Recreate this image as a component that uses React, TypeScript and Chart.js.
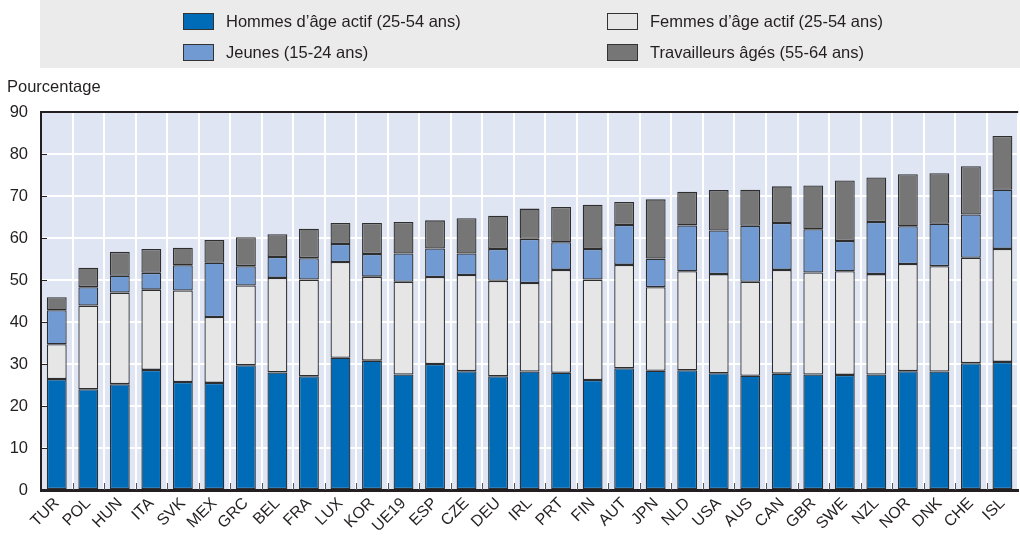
import React, { useEffect, useRef } from "react";
import { Chart, registerables } from "chart.js";
Chart.register(...registerables);

const categories = [
  "TUR", "POL", "HUN", "ITA", "SVK", "MEX", "GRC", "BEL", "FRA", "LUX",
  "KOR", "UE19", "ESP", "CZE", "DEU", "IRL", "PRT", "FIN", "AUT", "JPN",
  "NLD", "USA", "AUS", "CAN", "GBR", "SWE", "NZL", "NOR", "DNK", "CHE", "ISL",
];
const menValues = [
  26.4, 24.0, 25.2, 28.6, 25.7, 25.5, 29.7, 28.0, 27.1, 31.5,
  30.8, 27.5, 30.0, 28.3, 27.1, 28.2, 27.9, 26.2, 29.0, 28.4,
  28.5, 27.8, 27.2, 27.7, 27.5, 27.4, 27.5, 28.3, 28.2, 30.2, 30.5,
];
const womenValues = [
  8.3, 19.9, 21.8, 19.1, 21.8, 15.7, 19.0, 22.5, 23.0, 22.8,
  20.0, 22.1, 20.7, 22.9, 22.7, 21.1, 24.5, 23.9, 24.6, 19.9,
  23.6, 23.6, 22.4, 24.7, 24.3, 24.7, 23.9, 25.5, 25.1, 25.1, 26.9,
];
const youthValues = [
  8.1, 4.4, 4.0, 4.0, 6.0, 12.9, 4.6, 5.0, 5.1, 4.3,
  5.4, 6.7, 6.8, 5.1, 7.6, 10.5, 6.6, 7.3, 9.5, 6.8,
  10.9, 10.4, 13.3, 11.2, 10.3, 7.2, 12.4, 9.0, 10.1, 10.3, 14.1,
];
const olderValues = [
  3.1, 4.6, 5.7, 5.7, 4.2, 5.4, 6.9, 5.4, 7.0, 5.0,
  7.4, 7.5, 6.7, 8.4, 7.9, 7.2, 8.4, 10.5, 5.5, 14.1,
  8.0, 9.6, 8.6, 8.7, 10.4, 14.4, 10.6, 12.4, 12.0, 11.5, 12.8,
];
const seriesLabels = [
  "Hommes d\u2019âge actif (25-54 ans)",
  "Femmes d\u2019âge actif (25-54 ans)",
  "Jeunes (15-24 ans)",
  "Travailleurs âgés (55-64 ans)",
];
const yAxisTitle = "Pourcentage";
const yMin = 0;
const yMax = 90;
const yStep = 10;

const COLORS = ["#006BB6", "#E6E6E7", "#7199D2", "#767676"];
const FONT = "'Liberation Sans', Arial, sans-serif";
const TEXT = "#231F20";

export default function App() {
  const ref = useRef<HTMLCanvasElement | null>(null);

  useEffect(() => {
    document.body.style.margin = "0";
    const canvas = ref.current;
    if (!canvas) return;

    const decor = {
      id: "decor",
      beforeDraw(chart: any) {
        const { ctx, chartArea } = chart;
        ctx.save();
        ctx.fillStyle = "#EBEBEB";
        ctx.fillRect(40, 0, 980, 68);
        ctx.fillStyle = "#DFE5F3";
        ctx.fillRect(chartArea.left, chartArea.top, chartArea.right - chartArea.left, chartArea.bottom - chartArea.top);
        ctx.restore();
      },
      afterDraw(chart: any) {
        const { ctx, chartArea, scales } = chart;
        ctx.save();
        // top frame line
        ctx.strokeStyle = "#231F20";
        ctx.lineWidth = 2;
        ctx.beginPath();
        ctx.moveTo(chartArea.left, chartArea.top);
        ctx.lineTo(chartArea.right, chartArea.top);
        ctx.stroke();
        // y tick marks inside
        ctx.lineWidth = 1;
        const ys = scales.y;
        for (let v = yMin; v <= yMax; v += yStep) {
          const py = Math.round(ys.getPixelForValue(v)) + 0.5;
          ctx.beginPath();
          ctx.moveTo(chartArea.left, py);
          ctx.lineTo(chartArea.left + 6, py);
          ctx.stroke();
        }
        // x boundary marks
        const xs = scales.x;
        ctx.strokeStyle = "#555";
        for (let i = 1; i < categories.length; i++) {
          const px = Math.round((xs.getPixelForValue(i - 1) + xs.getPixelForValue(i)) / 2) + 0.5;
          ctx.beginPath();
          ctx.moveTo(px, chartArea.bottom - 7);
          ctx.lineTo(px, chartArea.bottom);
          ctx.stroke();
        }
        // legend
        const items = [
          { ds: 0, x: 183, y: 13 },
          { ds: 1, x: 607, y: 13 },
          { ds: 2, x: 183, y: 44 },
          { ds: 3, x: 607, y: 44 },
        ];
        ctx.font = `16.5px ${FONT}`;
        ctx.textBaseline = "middle";
        ctx.textAlign = "left";
        for (const it of items) {
          const dsObj = chart.data.datasets[it.ds];
          ctx.fillStyle = dsObj.backgroundColor;
          ctx.fillRect(it.x, it.y, 31, 17);
          ctx.strokeStyle = "#333";
          ctx.lineWidth = 1;
          ctx.strokeRect(it.x + 0.5, it.y + 0.5, 30, 16);
          ctx.fillStyle = TEXT;
          ctx.fillText(dsObj.label, it.x + 43, it.y + 9);
        }
        // axis title
        ctx.fillText(yAxisTitle, 7, 87);
        ctx.restore();
      },
    };

    const datasets = [menValues, womenValues, youthValues, olderValues].map((vals, i) => ({
      label: seriesLabels[i],
      data: vals,
      backgroundColor: COLORS[i],
      borderColor: "#2E2E2E",
      borderWidth: 1.3,
      borderSkipped: false,
      barPercentage: 0.63,
      categoryPercentage: 1,
    }));

    const chart = new Chart(canvas, {
      type: "bar",
      data: { labels: categories, datasets },
      options: {
        responsive: false,
        animation: false,
        devicePixelRatio: 1,
        layout: { padding: { top: 112, left: 0, right: 0, bottom: 0 } },
        plugins: { legend: { display: false }, tooltip: { enabled: false } },
        scales: {
          x: {
            stacked: true,
            offset: true,
            grid: { offset: true, color: "#FFFFFF", lineWidth: 2, drawTicks: false },
            border: { display: true, color: "#231F20", width: 3 },
            ticks: {
              autoSkip: false,
              maxRotation: 45,
              minRotation: 45,
              color: TEXT,
              padding: 4,
              font: { family: FONT, size: 16 },
            },
            afterFit(scale: any) {
              scale.height = 46;
            },
          },
          y: {
            stacked: true,
            min: yMin,
            max: yMax,
            ticks: {
              stepSize: yStep,
              color: TEXT,
              padding: 13,
              font: { family: FONT, size: 16.5 },
            },
            grid: { color: "#FFFFFF", lineWidth: 2, drawTicks: false },
            border: { display: true, color: "#231F20", width: 2 },
            afterFit(scale: any) {
              scale.width = 41;
            },
          },
        },
      },
      plugins: [decor],
    } as any);

    return () => chart.destroy();
  }, []);

  return (
    <div style={{ position: "relative", width: 1020, height: 536 }}>
      <canvas ref={ref} width={1020} height={536} style={{ display: "block" }} />
    </div>
  );
}
